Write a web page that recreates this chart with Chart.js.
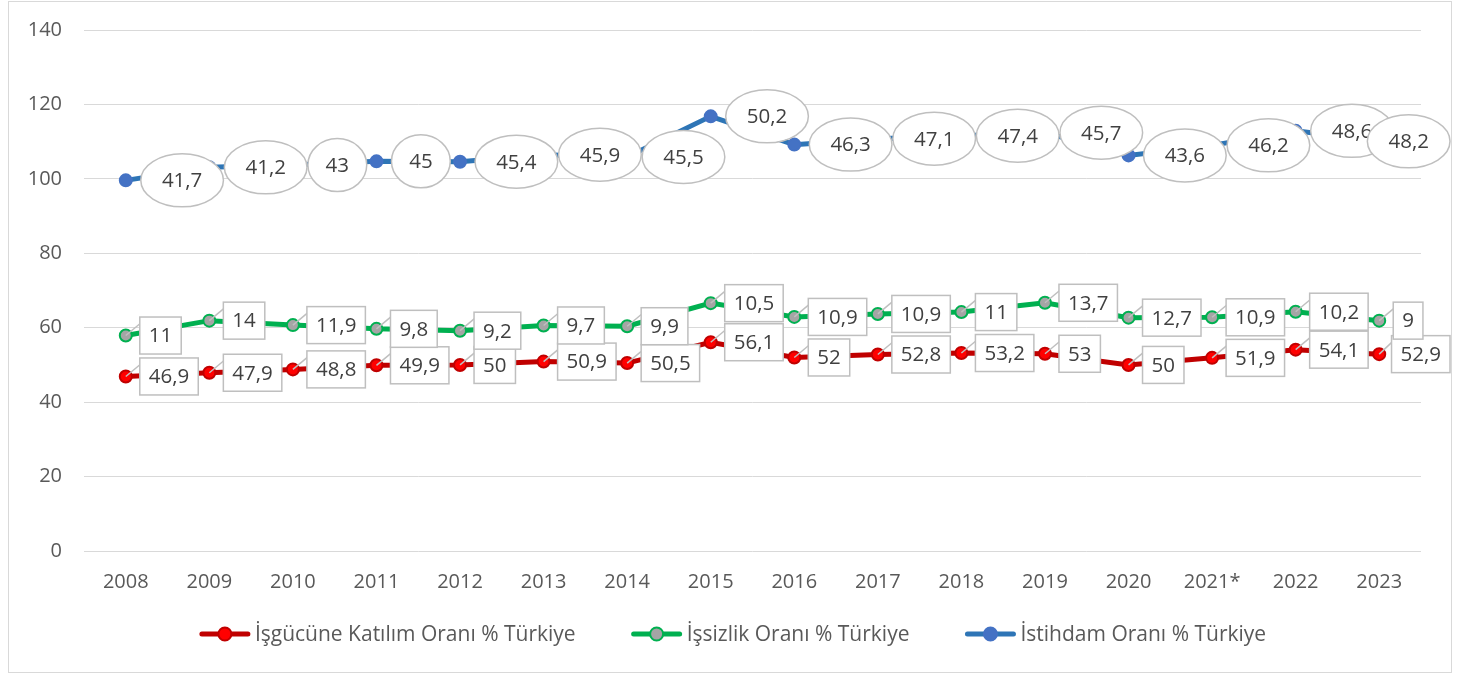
<!DOCTYPE html>
<html>
<head>
<meta charset="utf-8">
<script src="https://cdn.jsdelivr.net/npm/chart.js@4"></script>
<style>
  html, body { margin: 0; padding: 0; background: #fff; }
  canvas { display: block; }
</style>
</head>
<body>
<canvas id="chart" width="1465" height="675"></canvas>
<script>
// stacked line chart, Excel style labels

const years = ['2008', '2009', '2010', '2011', '2012', '2013', '2014', '2015', '2016', '2017', '2018', '2019', '2020', '2021*', '2022', '2023'];
const katilim = [46.9, 47.9, 48.8, 49.9, 50, 50.9, 50.5, 56.1, 52, 52.8, 53.2, 53, 50, 51.9, 54.1, 52.9];
const issizlik = [11, 14, 11.9, 9.8, 9.2, 9.7, 9.9, 10.5, 10.9, 10.9, 11, 13.7, 12.7, 10.9, 10.2, 9];
const istihdam = [41.7, 41.2, 43, 45, 45.4, 45.9, 45.5, 50.2, 46.3, 47.1, 47.4, 45.7, 43.6, 46.2, 48.6, 48.2];
const seriesNames = ['İşgücüne Katılım Oranı % Türkiye', 'İşsizlik Oranı % Türkiye', 'İstihdam Oranı % Türkiye'];

const FONT = '"Open Sans", "Liberation Sans", sans-serif';
const TXT = '#595959';
const GRID = '#D9D9D9';
const COL = {
  red:   { line: '#C00000', fill: '#FF0000', border: '#C00000' },
  green: { line: '#00B050', fill: '#A5A5A5', border: '#00B050' },
  blue:  { line: '#2E75B6', fill: '#4472C4', border: '#4472C4' },
};

function ds(label, data, c) {
  return {
    label, data,
    borderColor: c.line, backgroundColor: c.fill,
    borderWidth: 5, tension: 0, fill: false,
    pointRadius: 6, pointBorderWidth: 2, pointHoverRadius: 6,
    pointBackgroundColor: c.fill, pointBorderColor: c.border,
    _c: c,
  };
}

const fmtNum = v => String(v).replace('.', ',');

const frame = {
  id: 'frame',
  beforeDraw(chart) {
    const ctx = chart.ctx;
    ctx.save();
    ctx.fillStyle = '#fff';
    ctx.fillRect(0, 0, chart.width, chart.height);
    ctx.strokeStyle = GRID; ctx.lineWidth = 1;
    ctx.strokeRect(8.5, 1.5, 1443, 671);
    ctx.restore();
  },
};

// legend drawn by hand so the spacing matches
const legendBox = {
  id: 'legendBox',
  afterDraw(chart) {
    const ctx = chart.ctx;
    const y = 634, iconW = 52, gapText = 4, gapItem = 55;
    ctx.save();
    ctx.font = '21px ' + FONT;
    ctx.textBaseline = 'middle';
    ctx.textAlign = 'left';
    const sets = chart.data.datasets;
    const widths = sets.map(d => iconW + gapText + ctx.measureText(d.label).width);
    const total = widths.reduce((a, b) => a + b, 0) + gapItem * (sets.length - 1);
    let x = chart.width / 2 - total / 2;
    sets.forEach((d, i) => {
      const c = d._c;
      ctx.strokeStyle = c.line; ctx.lineWidth = 5; ctx.lineCap = 'round';
      ctx.beginPath(); ctx.moveTo(x + 3, y); ctx.lineTo(x + iconW - 3, y); ctx.stroke();
      ctx.fillStyle = c.fill; ctx.strokeStyle = c.border; ctx.lineWidth = 2;
      ctx.beginPath(); ctx.arc(x + iconW / 2, y, 6.5, 0, Math.PI * 2); ctx.fill(); ctx.stroke();
      ctx.fillStyle = TXT;
      ctx.fillText(d.label, x + iconW + gapText, y + 1);
      x += widths[i] + gapItem;
    });
    ctx.restore();
  },
};

const dataLabels = {
  id: 'dataLabels',
  afterDatasetsDraw(chart) {
    const ctx = chart.ctx;
    const maxRight = 1450;
    ctx.save();
    ctx.font = '20.5px ' + FONT;
    ctx.textBaseline = 'middle';
    ctx.textAlign = 'center';
    chart.data.datasets.forEach((set, di) => {
      const meta = chart.getDatasetMeta(di);
      meta.data.forEach((pt, i) => {
        const text = fmtNum(set.data[i]);
        const tw = ctx.measureText(text).width;
        const px = pt.x, py = pt.y;
        if (di < 2) {
          const w = tw + 18, h = 37;
          let left = px + 14;
          if (left + w > maxRight) left = maxRight - w;
          const top = py - h / 2;
          // callout tail
          ctx.strokeStyle = '#BFBFBF'; ctx.lineWidth = 1.5;
          ctx.beginPath(); ctx.moveTo(px, py); ctx.lineTo(left + 1, top + 6); ctx.stroke();
          ctx.fillStyle = '#fff';
          ctx.fillRect(left, top, w, h);
          ctx.strokeRect(left, top, w, h);
          ctx.fillStyle = '#404040';
          ctx.fillText(text, left + w / 2, py + 1);
        } else {
          const w = tw * 1.4 + 26, h = 53;
          let left = px + 15;
          if (left + w > maxRight) left = maxRight - w;
          ctx.beginPath();
          ctx.ellipse(left + w / 2, py, w / 2, h / 2, 0, 0, Math.PI * 2);
          ctx.fillStyle = '#fff'; ctx.fill();
          ctx.strokeStyle = '#BFBFBF'; ctx.lineWidth = 1.5; ctx.stroke();
          ctx.fillStyle = '#404040';
          ctx.fillText(text, left + w / 2, py + 1);
        }
      });
    });
    ctx.restore();
  },
};

new Chart(document.getElementById('chart'), {
  type: 'line',
  data: {
    labels: years,
    datasets: [
      ds(seriesNames[0], katilim, COL.red),
      ds(seriesNames[1], issizlik, COL.green),
      ds(seriesNames[2], istihdam, COL.blue),
    ],
  },
  options: {
    responsive: false,
    animation: false,
    events: [],
    layout: { padding: { left: 8, right: 8, top: 30, bottom: 64 } },
    plugins: {
      tooltip: { enabled: false },
      legend: { display: false },
    },
    scales: {
      x: {
        offset: true,
        grid: { display: false, drawTicks: false },
        border: { display: false },
        ticks: { color: TXT, font: { family: FONT, size: 20 }, padding: 19, maxRotation: 0, autoSkip: false },
        afterFit: s => { s.height = 60; s.paddingLeft = 0; s.paddingRight = 0; },
      },
      y: {
        stacked: true,
        min: 0, max: 140,
        grid: { color: GRID, lineWidth: 1, drawTicks: false },
        border: { display: false },
        ticks: { stepSize: 20, color: TXT, font: { family: FONT, size: 20 }, padding: 22 },
        afterFit: s => { s.width = 76; s.paddingTop = 0; s.paddingBottom = 0; },
      },
      yr: {
        position: 'right',
        grid: { display: false, drawTicks: false },
        border: { display: false },
        ticks: { display: false },
        afterFit: s => { s.width = 36; s.paddingTop = 0; s.paddingBottom = 0; },
      },
    },
  },
  plugins: [frame, dataLabels, legendBox],
});
</script>
</body>
</html>
